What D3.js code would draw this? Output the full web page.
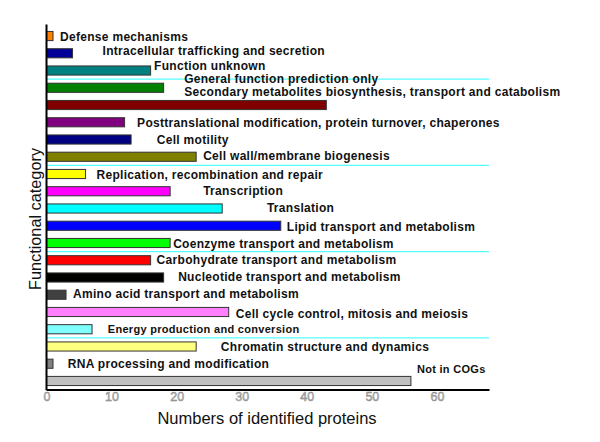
<!DOCTYPE html>
<html><head><meta charset="utf-8">
<script src="https://cdn.jsdelivr.net/npm/d3@7"></script>
<style>body{margin:0;background:#fff}svg{display:block}</style>
</head><body>
<script>
const categories = [
  "Defense mechanisms",
  "Intracellular trafficking and secretion",
  "Function unknown",
  "General function prediction only",
  "Secondary metabolites biosynthesis, transport and catabolism",
  "Posttranslational modification, protein turnover, chaperones",
  "Cell motility",
  "Cell wall/membrane biogenesis",
  "Replication, recombination and repair",
  "Transcription",
  "Translation",
  "Lipid transport and metabolism",
  "Coenzyme transport and metabolism",
  "Carbohydrate transport and metabolism",
  "Nucleotide transport and metabolism",
  "Amino acid transport and metabolism",
  "Cell cycle control, mitosis and meiosis",
  "Energy production and conversion",
  "Chromatin structure and dynamics",
  "RNA processing and modification",
  "Not in COGs"
];
const values = [1, 4, 16, 18, 43, 12, 13, 23, 6, 19, 27, 36, 19, 16, 18, 3, 28, 7, 23, 1, 56];
const colors = ["#ff8000","#000099","#008080","#008000","#800000","#800080","#000080","#808000",
  "#ffff00","#ff00ff","#00ffff","#0000ff","#00ff00","#ff0000","#000000","#404040",
  "#ff80ff","#80ffff","#ffff80","#808080","#c0c0c0"];
const xTicks = [0, 10, 20, 30, 40, 50, 60];
const separatorsAfter = ["Function unknown", "Cell wall/membrane biogenesis",
  "Coenzyme transport and metabolism", "Energy production and conversion"];
const xTitle = "Numbers of identified proteins";
const yTitle = "Functional category";

// layout (label placement offsets, px)
const labelDx = [7, 30, 3.5, 20.5, -142, 12.5, 25.7, 7, 11, 33, 44.7, 6, 3, 6, 14.5, 7, 7, 15.7, 24.7, 14.7, 6];
const labelDy = [0.5, -2.5, -5, -9, -13, 0.5, 0, -0.5, 1, -0.5, -1, 1, 1.3, 0, 0, -0.3, 2, 0, 0.2, 0.3, -11.7];
const labelSize = [12,12,12,12,12,12,12,12,12,12,12,12,12,12,12,12,12,11,12,12,11];

const W = 600, H = 442;
const svg = d3.select("body").append("svg").attr("width", W).attr("height", H);

const x = d3.scaleLinear().domain([0, 68]).range([46.5, 489]);
const y = d3.scaleBand().domain(categories).range([27.4, 389.6]).paddingInner(0.47).paddingOuter(0.235);

const sepY = d => { const i = categories.indexOf(d); return (y(categories[i]) + y.bandwidth() + y(categories[i+1]))/2; };
svg.selectAll("line.sep").data(separatorsAfter).enter().append("line")
  .attr("class","sep")
  .attr("x1", x(0)).attr("x2", x(68))
  .attr("y1", sepY).attr("y2", sepY)
  .attr("stroke", "#55ffff").attr("stroke-width", 1.2);

svg.selectAll("rect.bar").data(categories).enter().append("rect")
  .attr("class","bar")
  .attr("x", x(0))
  .attr("y", d => y(d))
  .attr("width", (d,i) => x(values[i]) - x(0))
  .attr("height", y.bandwidth())
  .attr("fill", (d,i) => colors[i])
  .attr("stroke", "#333").attr("stroke-width", 1);

svg.selectAll("text.lab").data(categories).enter().append("text")
  .attr("class","lab")
  .attr("x", (d,i) => x(values[i]) + labelDx[i])
  .attr("y", (d,i) => y(d) + y.bandwidth()/2 + labelDy[i])
  .attr("dominant-baseline", "central")
  .attr("font-family", "Liberation Sans, Arial, sans-serif")
  .attr("font-weight", "bold")
  .attr("font-size", (d,i) => labelSize[i])
  .attr("letter-spacing", 0.3)
  .attr("fill", "#111")
  .text(d => d);

const xAxis = d3.axisBottom(x).tickValues(xTicks).tickSize(0).tickPadding(3);
const gx = svg.append("g").attr("transform", `translate(0,${389.6})`).call(xAxis);
gx.select(".domain").attr("stroke", "#000").attr("stroke-width", 2);
gx.selectAll("text").attr("font-family", "Liberation Sans, Arial, sans-serif")
  .attr("font-size", 12.5).attr("fill", "#bbb").attr("stroke", "#777").attr("stroke-width", 0.4);

const yAxis = d3.axisLeft(y).tickSize(0).tickFormat("");
const gy = svg.append("g").attr("transform", `translate(${x(0)},0)`).call(yAxis);
gy.select(".domain").attr("stroke", "#000").attr("stroke-width", 2).attr("d", `M0,24.5V390.6`);

svg.append("text").attr("x", 267).attr("y", 418).attr("text-anchor","middle")
  .attr("dominant-baseline","central")
  .attr("font-family","Liberation Sans, Arial, sans-serif").attr("font-size", 16.5)
  .attr("fill","#111").text(xTitle);
svg.append("text").attr("transform","translate(35,219) rotate(-90)").attr("text-anchor","middle")
  .attr("dominant-baseline","central")
  .attr("font-family","Liberation Sans, Arial, sans-serif").attr("font-size", 16.3)
  .attr("fill","#111").text(yTitle);
</script>
</body></html>
